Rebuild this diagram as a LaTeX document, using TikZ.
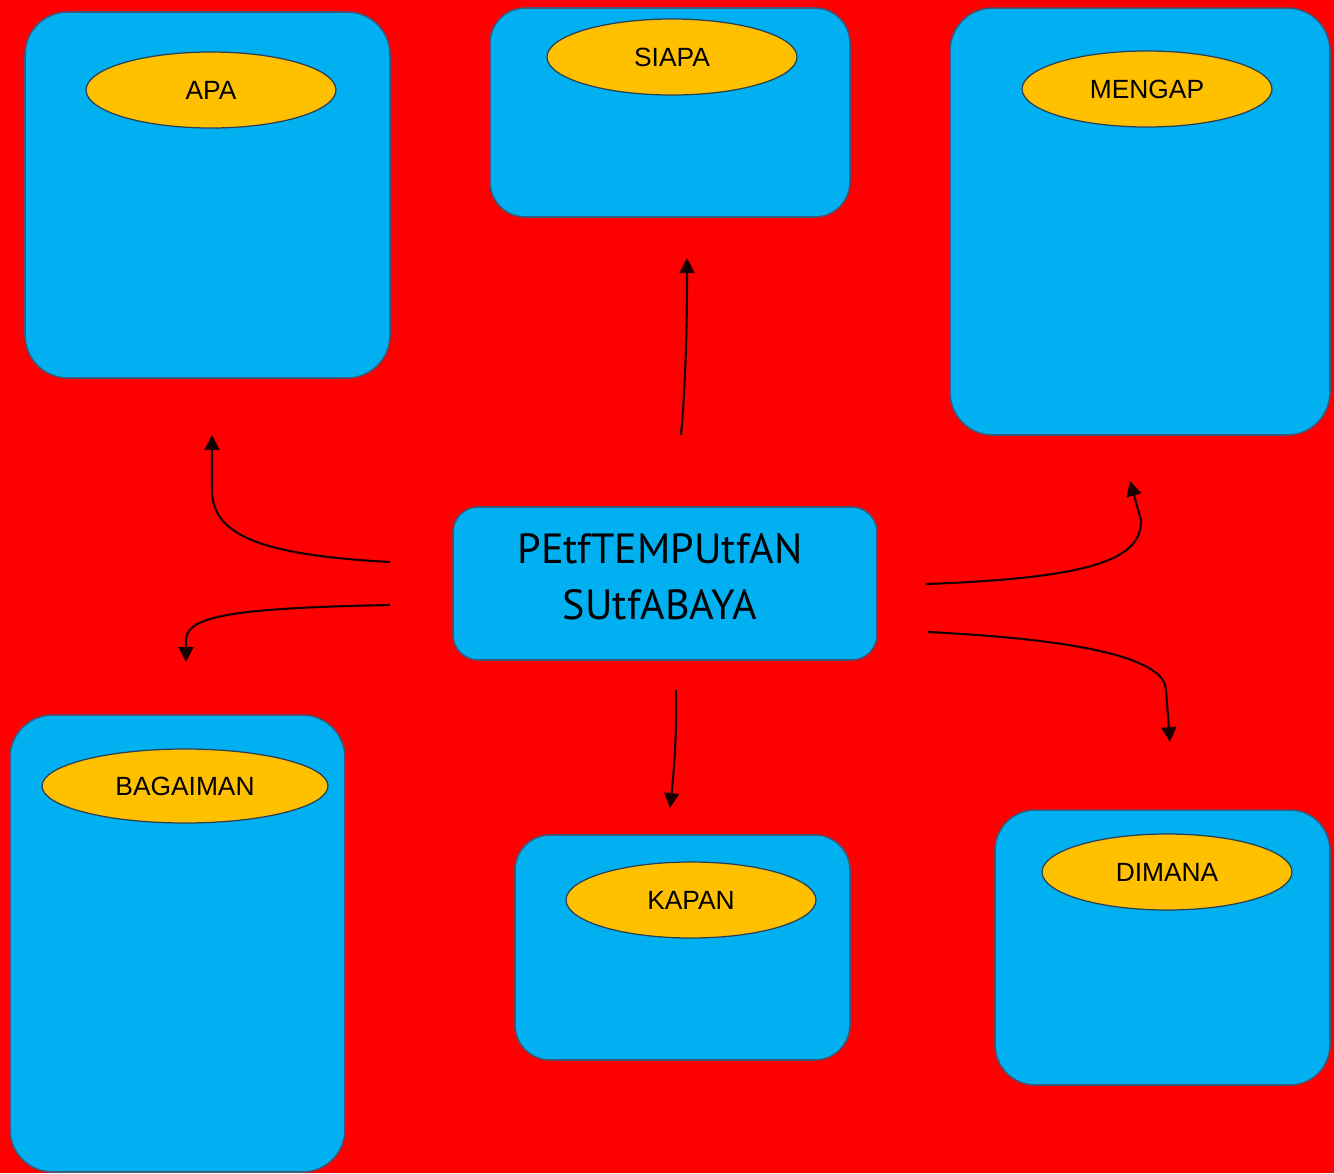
\documentclass[tikz,border=0pt]{standalone}
\usepackage{fontspec}
\setmainfont{Liberation Sans}
\newfontfamily\titlefont{PT Sans}
\usetikzlibrary{arrows.meta,shapes.geometric}

\definecolor{bgred}{HTML}{FF0000}
\definecolor{boxblue}{HTML}{00B0F0}
\definecolor{ovalgold}{HTML}{FFC000}
\definecolor{edgegrey}{HTML}{3F5A78}

\tikzset{
  card/.style={draw=edgegrey, line width=0.9pt, fill=boxblue, rounded corners=0.85cm, inner sep=0pt},
  oval/.style={ellipse, draw=edgegrey!70!black, line width=0.7pt, fill=ovalgold,
    minimum width=5cm, minimum height=1.52cm, inner sep=0pt,
    text=black, font=\fontsize{15}{18}\selectfont},
  link/.style={-{Triangle[length=8.5pt,width=8.5pt]}, line width=1.2pt, draw=black!90!red}
}

\begin{document}
\begin{tikzpicture}[x=0.02cm, y=-0.02cm]
  \fill[bgred] (0,0) rectangle (1334,1173);
  \useasboundingbox (0,0) rectangle (1334,1173);

  % boxes
  \node[card, minimum width=7.3cm, minimum height=7.32cm] (apa) at (207.5,195) {};
  \node[card, minimum width=7.2cm, minimum height=4.18cm, rounded corners=0.7cm] (siapa) at (670,112.5) {};
  \node[card, minimum width=7.6cm, minimum height=8.54cm] (mengap) at (1140,221.5) {};
  \node[card, minimum width=6.7cm, minimum height=9.14cm] (bagaiman) at (177.5,943.5) {};
  \node[card, minimum width=6.7cm, minimum height=4.5cm, rounded corners=0.7cm] (kapan) at (682.5,947.5) {};
  \node[card, minimum width=6.7cm, minimum height=5.5cm, rounded corners=0.8cm] (dimana) at (1162.5,947.5) {};

  % centre
  \node[card, minimum width=8.48cm, minimum height=3.06cm, rounded corners=0.5cm] (pusat) at (665,583.5) {};
  \node[align=center, text=black, font=\titlefont\fontsize{24}{32}\selectfont] (pusatText) at (660,577)
    {PEtfTEMPUtfAN\\SUtfABAYA};

  % labels
  \node[oval] (apaLabel) at (211,90) {APA};
  \node[oval] (siapaLabel) at (672,57) {SIAPA};
  \node[oval] (mengapLabel) at (1147,89) {MENGAP};
  \node[oval, minimum width=5.72cm, minimum height=1.48cm] (bagaimanLabel) at (185,786) {BAGAIMAN};
  \node[oval] (kapanLabel) at (691,900) {KAPAN};
  \node[oval] (dimanaLabel) at (1167,872) {DIMANA};

  % arrows
  \coordinate (apaFrom) at (390,562);
  \coordinate (apaTo) at (212,435);
  \coordinate (bagFrom) at (390,605);
  \coordinate (bagTo) at (186,662);
  \coordinate (siapaFrom) at (681,435);
  \coordinate (siapaTo) at (687,258);
  \coordinate (kapanFrom) at (676,690);
  \coordinate (kapanTo) at (670,808);
  \coordinate (mengapFrom) at (926,584);
  \coordinate (mengapTo) at (1130,481);
  \coordinate (dimanaFrom) at (928,632);
  \coordinate (dimanaTo) at (1170,742);

  \draw[link] (apaFrom) .. controls (260,555) and (212,535) .. (212,490) -- (apaTo);
  \draw[link] (bagFrom) .. controls (240,608) and (186,615) .. (186,640) -- (bagTo);
  \draw[link] (siapaFrom) .. controls (686,380) and (687,320) .. (siapaTo);
  \draw[link] (kapanFrom) .. controls (677,740) and (673,780) .. (kapanTo);
  \draw[link] (mengapFrom) .. controls (1090,578) and (1142,560) .. (1141,520) -- (mengapTo);
  \draw[link] (dimanaFrom) .. controls (1090,640) and (1165,660) .. (1166,690) -- (dimanaTo);
\end{tikzpicture}
\end{document}
